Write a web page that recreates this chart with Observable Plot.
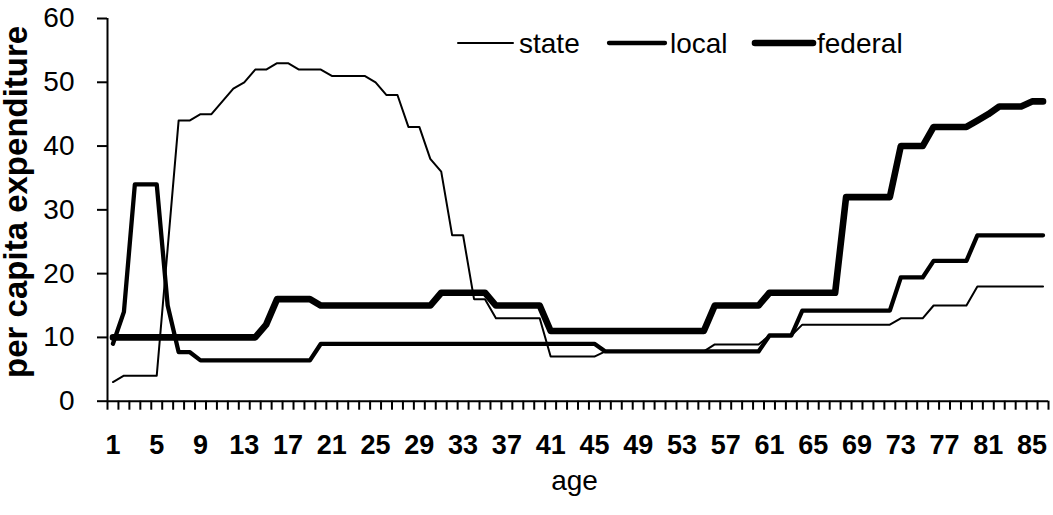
<!DOCTYPE html>
<html><head><meta charset="utf-8">
<script src="https://cdn.jsdelivr.net/npm/d3@7"></script>
<script src="https://cdn.jsdelivr.net/npm/@observablehq/plot@0.6"></script>
<style>
body{margin:0;background:#fff;}
#chart{position:relative;width:1053px;height:515px;}
</style>
</head><body><div id="chart"></div>
<script>
// ---- data ----
const ages = [1,2,3,4,5,6,7,8,9,10,11,12,13,14,15,16,17,18,19,20,21,22,23,24,25,26,27,28,29,30,
  31,32,33,34,35,36,37,38,39,40,41,42,43,44,45,46,47,48,49,50,51,52,53,54,55,56,57,58,59,60,
  61,62,63,64,65,66,67,68,69,70,71,72,73,74,75,76,77,78,79,80,81,82,83,84,85,86];
const xTickLabels = [1,5,9,13,17,21,25,29,33,37,41,45,49,53,57,61,65,69,73,77,81,85];
const yTicks = [0,10,20,30,40,50,60];
const seriesNames = ["state","local","federal"];
const xTitle = "age";
const yTitle = "per capita expenditure";

const state = [3,4,4,4,4,24,44,44,45,45,47,49,50,52,52,53,53,52,52,52,
  51,51,51,51,50,48,48,43,43,38,36,26,26,16,16,13,13,13,13,13,
  7,7,7,7,7,7.8,7.8,7.8,7.8,7.8,7.8,7.8,7.8,7.8,7.8,8.9,8.9,8.9,8.9,8.9,
  10.3,10.3,10.3,12,12,12,12,12,12,12,12,12,13,13,13,15,15,15,15,
  18,18,18,18,18,18,18];
const local = [9,14,34,34,34,15,7.7,7.7,6.4,6.4,6.4,6.4,6.4,6.4,6.4,6.4,6.4,6.4,6.4,
  9,9,9,9,9,9,9,9,9,9,9,9,9,9,9,9,9,9,9,9,9,9,9,9,9,9,
  7.8,7.8,7.8,7.8,7.8,7.8,7.8,7.8,7.8,7.8,7.8,7.8,7.8,7.8,7.8,
  10.3,10.3,10.3,14.2,14.2,14.2,14.2,14.2,14.2,14.2,14.2,14.2,19.4,19.4,19.4,22,22,22,22,
  26,26,26,26,26,26,26];
const federal = [10,10,10,10,10,10,10,10,10,10,10,10,10,10,12,16,16,16,16,
  15,15,15,15,15,15,15,15,15,15,15,17,17,17,17,17,15,15,15,15,15,
  11,11,11,11,11,11,11,11,11,11,11,11,11,11,11,15,15,15,15,15,
  17,17,17,17,17,17,17,32,32,32,32,32,40,40,40,43,43,43,43,44,45,46.2,46.2,46.2,47,47];

// ---- build ----
const values = {state, local, federal};
const widths = {state: 2, local: 4.3, federal: 6.6};
const rows = seriesNames.flatMap(name => ages.map((a, i) => ({name, age: a, value: values[name][i]})));
const boundaries = d3.range(ages[0] - 0.5, ages[ages.length - 1] + 1, 1);
const font = "'Liberation Sans', Arial, sans-serif";

const plot = Plot.plot({
  width: 1053, height: 515,
  marginLeft: 107, marginRight: 5, marginTop: 18, marginBottom: 114.3,
  style: {fontFamily: font, background: "#fff", color: "#000", overflow: "visible"},
  x: {type: "linear", domain: [ages[0] - 0.5, ages[ages.length - 1] + 0.5]},
  y: {domain: [yTicks[0], yTicks[yTicks.length - 1]]},
  marks: [
    Plot.axisY({ticks: yTicks, tickSize: 10, tickPadding: 23, fontSize: 28, strokeWidth: 2, label: null}),
    Plot.axisX({ticks: boundaries, tickSize: 9, tickFormat: () => "", strokeWidth: 2, label: null}),
    Plot.axisX({ticks: xTickLabels, tickSize: 0, tickPadding: 34, fontSize: 27, fontWeight: "bold", label: null}),
    Plot.ruleX([ages[0] - 0.5], {strokeWidth: 2}),
    Plot.ruleY([0], {strokeWidth: 2}),
    ...seriesNames.map(name => Plot.line(rows.filter(r => r.name === name), {
      x: "age", y: "value", stroke: "#000", strokeWidth: widths[name],
      strokeLinejoin: "round", strokeLinecap: "round"
    })),
    Plot.text([yTitle], {text: d => d, frameAnchor: "left", textAnchor: "middle", lineAnchor: "middle",
      rotate: -90, dx: -91.5, dy: -8, fontSize: 33, fontWeight: "bold"}),
    Plot.text([xTitle], {text: d => d, frameAnchor: "bottom", textAnchor: "middle", lineAnchor: "middle",
      dx: -3.5, dy: 80, fontSize: 28})
  ]
});
document.getElementById("chart").appendChild(plot);

// ---- legend (inside plot area, top) ----
const legendPos = {state: [458, 513, 519], local: [609, 665, 670], federal: [755, 813, 817]};
const legendY = 43;
const g = d3.select(plot).append("g").attr("font-family", font).attr("font-size", 28)
  .attr("text-anchor", "start");
seriesNames.forEach(name => {
  const [x0, x1, tx] = legendPos[name];
  g.append("line").attr("x1", x0).attr("x2", x1).attr("y1", legendY).attr("y2", legendY)
    .attr("stroke", "#000").attr("stroke-width", widths[name]).attr("stroke-linecap", "round");
  g.append("text").attr("x", tx).attr("y", legendY).attr("dy", "0.35em").attr("fill", "#000")
    .attr("text-anchor", "start").text(name);
});
</script>
</body></html>
